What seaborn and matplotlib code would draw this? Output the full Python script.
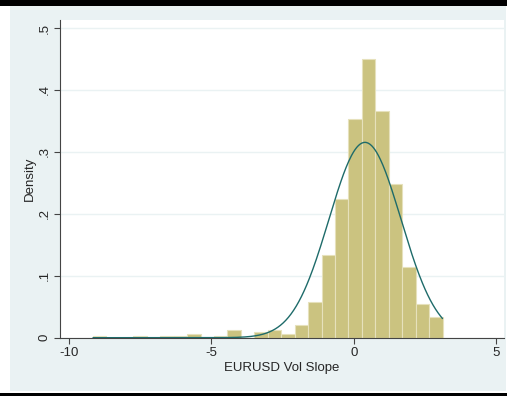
import numpy as np
import pandas as pd
import matplotlib
matplotlib.use('Agg')
import matplotlib.pyplot as plt
from matplotlib.patches import Rectangle
import seaborn as sns

# histogram: 26 bins between the data min and max
x_min = -9.16
x_max = 3.12
n_bins = 26
bin_counts = [1, 0, 0, 1, 0, 1, 1, 2, 0, 1, 4, 0, 3, 4, 2, 7,
              19, 44, 74, 117, 149, 121, 82, 38, 18, 11]

x_ticks = [-10, -5, 0, 5]
x_tick_labels = ['-10', '-5', '0', '5']
y_ticks = [0, 0.1, 0.2, 0.3, 0.4, 0.5]
y_tick_labels = ['0', '.1', '.2', '.3', '.4', '.5']
x_label = 'EURUSD Vol Slope'
y_label = 'Density'

bar_color = '#CBC380'
bar_edge = '#E6E1BC'
line_color = '#1E6B6A'
bg_color = '#EAF2F3'

sns.set_style('white')
plt.rcParams['font.family'] = ['Liberation Sans', 'DejaVu Sans']

edges = np.linspace(x_min, x_max, n_bins + 1)
centers = (edges[:-1] + edges[1:]) / 2
df = pd.DataFrame({'x': centers, 'n': np.array(bin_counts, dtype=float)})

# normal density with the mean and sd of the (binned) data
mu = np.average(df['x'], weights=df['n'])
sd = np.sqrt(np.average((df['x'] - mu) ** 2, weights=df['n']))
grid = np.linspace(x_min, x_max, 400)
pdf = np.exp(-0.5 * ((grid - mu) / sd) ** 2) / (sd * np.sqrt(2 * np.pi))

fig = plt.figure(figsize=(5.07, 3.96), dpi=100)
fig.patch.set_facecolor('white')
fig.patches.append(Rectangle((10 / 507, 5 / 396), 496 / 507, 386 / 396,
                             transform=fig.transFigure, facecolor=bg_color,
                             edgecolor='none', zorder=-2))
fig.patches.append(Rectangle((0, 390.5 / 396), 1, 5.5 / 396,
                             transform=fig.transFigure, facecolor='black',
                             edgecolor='none', zorder=-1))
fig.patches.append(Rectangle((0, 0), 1, 3 / 396,
                             transform=fig.transFigure, facecolor='black',
                             edgecolor='none', zorder=-1))

ax = fig.add_axes([60 / 507, 58.3 / 396, 444 / 507, 317.7 / 396])
ax.set_facecolor('white')

sns.histplot(data=df, x='x', weights='n', bins=n_bins,
             binrange=(x_min, x_max), stat='density',
             color=bar_color, edgecolor=bar_edge, linewidth=0.8, alpha=1,
             ax=ax, zorder=2)
sns.lineplot(x=grid, y=pdf, color=line_color, linewidth=1.0, ax=ax, zorder=3)

ax.set_xlim(-10.32, 5.28)
ax.set_ylim(0, 0.513)
ax.set_xticks(x_ticks)
ax.set_xticklabels(x_tick_labels)
ax.set_yticks(y_ticks)
ax.set_yticklabels(y_tick_labels, rotation=90, va='center')
ax.grid(axis='y', color=bg_color, linewidth=1.0, zorder=0)
ax.set_axisbelow(True)

for side in ['top', 'right']:
    ax.spines[side].set_visible(False)
for side in ['left', 'bottom']:
    ax.spines[side].set_color('#444444')
    ax.spines[side].set_linewidth(0.8)
ax.tick_params(axis='both', direction='out', length=4, width=0.8,
               color='#444444', labelsize=9.5, pad=2.5, left=True, bottom=True)

ax.set_xlabel(x_label, fontsize=9.5, labelpad=2.5)
ax.set_ylabel(y_label, fontsize=9.5, labelpad=2)

fig.savefig('out.png', dpi=100, facecolor=fig.get_facecolor())
